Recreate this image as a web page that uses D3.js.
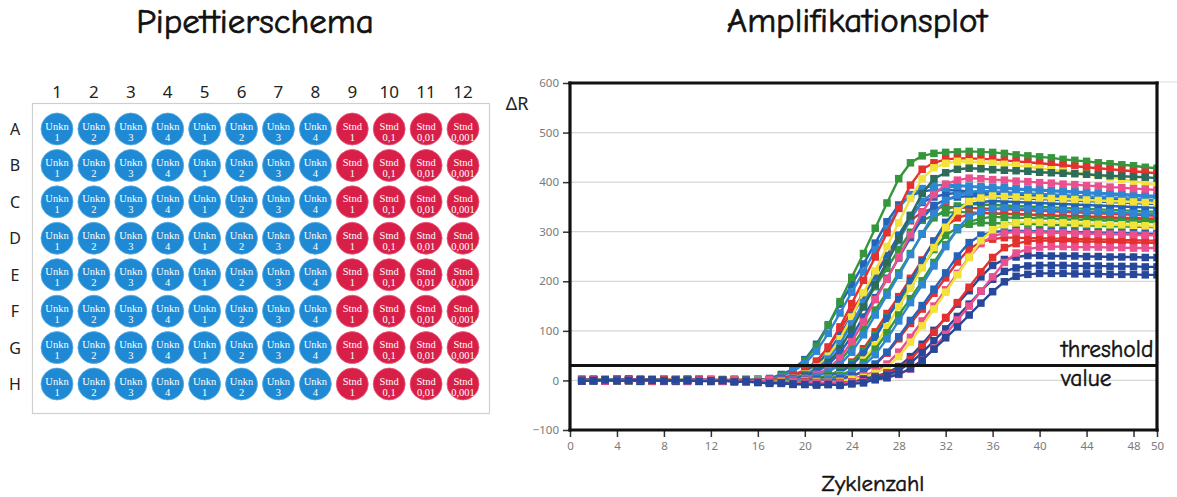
<!DOCTYPE html>
<html><head><meta charset="utf-8">
<script src="https://cdn.jsdelivr.net/npm/d3@7"></script>
<style>html,body{margin:0;padding:0;background:#fff;} svg{display:block}</style>
</head><body>
<svg id="chart" width="1177" height="497"></svg>
<script>
// ---------- text ----------
const titleLeft = "Pipettierschema";
const titleRight = "Amplifikationsplot";
const yAxisLabel = "ΔR";
const xAxisLabel = "Zyklenzahl";
const thresholdLabel1 = "threshold";
const thresholdLabel2 = "value";

// ---------- plate data ----------
const rowLabels = ["A","B","C","D","E","F","G","H"];
const colLabels = ["1","2","3","4","5","6","7","8","9","10","11","12"];
const wellType = ["Unkn","Unkn","Unkn","Unkn","Unkn","Unkn","Unkn","Unkn","Stnd","Stnd","Stnd","Stnd"];
const wellNumber = ["1","2","3","4","1","2","3","4","1","0,1","0,01","0,001"];

// ---------- amplification data ----------
const cycles = d3.range(1, 51);
const xTickValues = [0,4,8,12,16,20,24,28,32,36,40,44,48,50];
const yTickValues = [-100,0,100,200,300,400,500,600];
const thresholdValue = 30;

const seriesColors = [
 "#2563b8","#35963c","#2f86d2","#e3312f","#35963c","#2563b8","#e3312f","#f2e23a","#2f86d2","#2d6b5a",
 "#2563b8","#35963c","#ea4f8e","#2f86d2","#e3312f","#35963c","#2563b8","#f2e23a","#35963c","#2f86d2",
 "#e3312f","#2563b8","#ea4f8e","#f2e23a","#27479a","#e3312f","#27479a","#ea4f8e","#27479a"
];
const seriesValues = [
 [2,-1,1,3,0,-2,1,2,0,-1,2,1,-1,0,2,1,4,12,23,42,73,112,154,193,235,277,320,354,373,381,385,384,383,381,380,379,378,377,375,374,373,372,371,369,368,367,366,365,363,362],
 [0,2,-1,1,2,0,-1,1,3,0,1,-2,0,2,1,0,2,9,21,39,69,111,159,208,256,307,358,407,439,453,458,460,461,462,461,460,458,455,453,451,449,446,444,442,439,437,435,433,430,428],
 [1,0,2,-1,0,1,-2,1,0,2,1,0,-1,1,0,-1,2,8,18,34,59,95,136,178,219,263,306,348,375,387,393,395,394,392,391,390,389,387,386,385,383,382,381,379,378,377,376,374,373,372],
 [-1,1,0,2,1,-1,0,1,2,0,-1,1,0,2,1,0,1,4,11,21,39,67,102,140,175,214,252,291,322,340,347,350,349,348,347,346,345,344,343,342,341,340,339,338,337,336,335,334,333,332],
 [0,1,-1,2,0,1,1,-2,0,1,2,-1,0,1,-1,2,1,2,7,15,29,51,82,117,153,189,226,264,299,323,333,338,340,339,338,337,336,335,334,333,332,331,330,329,328,327,326,325,324,323],
 [1,-1,0,1,2,0,-1,1,0,2,0,1,-1,0,1,2,0,2,8,17,32,57,91,130,170,210,251,293,333,359,370,376,378,377,376,374,373,372,371,370,368,367,366,365,364,362,361,360,359,358],
 [2,0,1,-1,1,0,2,-1,0,1,-1,2,0,1,0,-1,1,2,9,20,38,67,108,155,202,249,298,347,394,426,439,446,448,448,447,446,444,442,440,438,436,434,432,430,428,426,424,422,420,418],
 [0,1,2,-1,0,1,0,2,-1,1,0,-1,1,2,0,1,-1,1,4,13,27,49,84,128,177,221,270,318,367,407,429,438,442,441,440,438,436,434,431,428,425,422,419,416,413,410,406,402,398,394],
 [-1,0,1,2,0,-1,1,0,2,1,-1,0,1,0,2,-1,0,1,4,12,24,43,74,114,157,196,239,282,325,361,380,388,392,391,389,388,387,385,384,383,382,380,379,378,376,375,374,372,371,370],
 [1,2,0,-1,1,0,1,-1,2,0,1,0,-2,1,0,2,1,0,2,9,19,36,64,103,148,193,238,285,332,377,407,419,426,428,427,425,424,423,422,420,419,418,417,416,414,413,412,411,410,408],
 [0,-1,1,0,2,1,-1,0,1,2,0,1,-1,0,1,0,-2,1,2,7,17,32,56,89,128,167,206,247,288,327,353,365,370,372,371,370,369,368,367,366,365,364,363,362,361,360,359,358,357,356],
 [1,0,2,1,-1,0,1,2,0,-1,1,0,2,-1,0,1,0,-1,1,4,11,21,39,68,103,142,178,217,256,295,328,345,352,356,355,354,353,352,351,350,349,348,347,346,345,344,343,342,341,340],
 [2,1,0,-1,1,2,0,1,-1,0,2,1,0,1,-1,0,2,0,1,4,12,24,45,78,118,163,204,249,294,339,375,396,404,408,407,405,404,402,401,399,398,396,395,393,392,390,389,387,386,384],
 [0,1,-1,2,0,1,-1,0,2,1,0,-1,1,0,2,1,-1,0,1,2,8,17,32,57,92,132,172,212,254,296,336,363,374,380,382,381,380,378,377,376,375,374,372,371,370,369,368,366,365,364],
 [1,0,-1,1,2,0,1,-1,0,1,2,0,-1,1,0,-2,-1,-3,-2,0,3,10,20,37,64,98,135,169,206,243,281,311,328,335,338,337,336,336,335,334,333,332,332,331,330,329,328,328,327,326],
 [-1,1,0,2,1,-1,0,1,0,2,-1,1,0,-1,1,0,-2,-3,-1,-2,3,10,19,35,60,92,127,159,194,229,264,293,308,315,318,317,317,316,316,315,314,314,313,313,312,311,311,310,310,309],
 [0,2,1,-1,0,1,2,0,-1,1,0,1,-1,2,0,-1,-2,-4,-3,-2,2,7,16,31,54,87,125,163,201,241,281,319,344,355,360,362,361,360,359,358,357,356,355,354,353,352,351,350,349,348],
 [1,-1,0,2,1,0,-1,1,2,0,1,-1,0,1,2,0,-1,-2,-3,-1,-2,4,11,22,41,71,108,149,186,227,268,309,342,361,368,372,371,370,369,368,367,366,365,364,363,362,361,360,359,358],
 [2,0,1,-1,0,2,1,0,-1,1,0,2,-1,0,1,-1,-2,-1,-3,-2,-1,3,10,20,36,63,96,132,165,201,238,274,304,320,327,330,329,328,328,327,326,325,324,324,323,322,321,320,320,319],
 [0,1,-1,0,2,1,-1,0,1,2,-1,0,1,-1,0,-2,-3,-4,-2,-3,-1,2,7,16,30,52,84,120,157,193,231,270,306,331,341,346,348,347,346,345,344,343,342,341,340,339,338,337,336,335],
 [1,0,2,-1,1,0,-1,2,0,1,-1,0,1,-2,0,-1,-3,-4,-5,-3,-4,-2,3,9,17,32,55,84,115,144,176,207,239,265,279,285,288,288,287,287,286,286,285,285,284,284,283,283,282,282],
 [-1,1,0,1,2,-1,0,1,-2,0,1,0,-1,1,0,-2,-4,-3,-5,-6,-4,-3,3,9,18,33,57,88,121,151,184,217,251,278,293,299,302,302,301,301,300,300,299,299,298,298,297,297,296,296],
 [0,1,-1,2,0,1,0,-1,1,0,2,-1,0,1,-1,-2,-3,-4,-6,-5,-6,-4,-3,3,9,18,33,57,87,120,150,183,216,249,276,291,297,300,299,299,298,298,297,296,296,295,295,294,293,293],
 [1,0,2,-1,0,1,-1,0,2,1,0,-1,1,0,-2,-1,-3,-2,-4,-5,-3,-4,-2,2,6,14,27,48,77,110,144,178,213,248,282,304,314,318,320,319,318,318,317,316,315,314,314,313,312,311],
 [-1,0,1,0,2,-1,1,0,-1,1,0,-2,1,-1,0,-2,-4,-5,-7,-8,-6,-8,-7,-5,3,8,15,28,48,73,101,126,154,181,209,232,244,249,252,252,251,251,251,250,250,249,249,249,248,248],
 [0,2,-1,1,0,1,-1,2,0,-1,1,0,-1,0,-2,-3,-2,-4,-5,-4,-6,-5,-4,-3,1,6,13,24,42,68,97,127,157,188,219,248,268,276,281,282,282,281,281,280,280,279,279,278,278,277],
 [1,-1,0,2,0,-1,1,0,1,-2,0,1,-1,-2,-3,-4,-5,-6,-8,-7,-9,-8,-7,-6,1,5,10,20,35,56,80,104,129,154,180,204,220,227,231,232,232,232,231,231,231,230,230,230,229,229],
 [0,1,-1,0,1,2,-1,0,1,-1,0,2,-1,0,-2,-1,-3,-4,-3,-5,-4,-6,-5,-4,-3,1,5,12,23,41,65,93,122,150,180,209,238,257,265,269,270,270,269,269,269,268,268,267,267,267],
 [-1,0,1,-1,0,2,0,-1,1,0,-2,-1,0,-3,-2,-4,-6,-5,-7,-8,-9,-8,-10,-7,-5,2,6,13,24,41,63,86,108,132,156,179,199,210,214,216,216,216,215,215,215,214,214,214,213,213]
];

// ---------- drawing ----------
const comic = "'Comic Sans MS','Comic Neue','Noto Sans',sans-serif";
const svg = d3.select("#chart");

function comicText(xp, yp, size, txt, anchor, sw) {
  return svg.append("text").attr("x",xp).attr("y",yp).attr("text-anchor",anchor)
    .attr("font-family",comic).attr("font-size",size).attr("fill","#111")
    .attr("stroke","#111").attr("stroke-width",sw).attr("paint-order","stroke").text(txt);
}
comicText(255, 33, 35, titleLeft, "middle", 0.7);
comicText(857, 32, 35, titleRight, "middle", 0.7);

// plate
const px = d3.scalePoint().domain(colLabels).range([57,463]);
const py = d3.scalePoint().domain(rowLabels).range([129,384]);
svg.append("rect").attr("x",32.5).attr("y",103.5).attr("width",457).attr("height",310)
  .attr("fill","#fff").attr("stroke","#cfcfcf").attr("stroke-width",1.2);

svg.append("g").selectAll("text").data(colLabels).join("text")
  .attr("x",d=>px(d)).attr("y",98).attr("text-anchor","middle")
  .attr("font-family","'Noto Sans',sans-serif").attr("font-size",17).attr("fill","#222").text(d=>d);
svg.append("g").selectAll("text").data(rowLabels).join("text")
  .attr("x",15).attr("y",d=>py(d)+6).attr("text-anchor","middle")
  .attr("font-family","'Noto Sans',sans-serif").attr("font-size",16).attr("fill","#222").text(d=>d);

const wells = [];
rowLabels.forEach(r => colLabels.forEach((c,ci) => wells.push({r,c,ci})));
const wg = svg.append("g").selectAll("g").data(wells).join("g")
  .attr("transform",d=>`translate(${px(d.c)},${py(d.r)})`);
wg.append("circle").attr("r",16)
  .attr("fill",d=>wellType[d.ci]==="Unkn" ? "#1f8ad3" : "#d81f48")
  .attr("stroke",d=>wellType[d.ci]==="Unkn" ? "#5aaee6" : "#e85c7c").attr("stroke-width",0.8);
wg.append("text").attr("y",0.5).attr("text-anchor","middle")
  .attr("font-family","'Liberation Serif',serif").attr("font-size",10.5).attr("fill","#fff")
  .text(d=>wellType[d.ci]);
wg.append("text").attr("y",11.5).attr("text-anchor","middle")
  .attr("font-family","'Liberation Serif',serif").attr("font-size",10.5).attr("fill","#fff")
  .text(d=>wellNumber[d.ci]);

// amplification plot
const x = d3.scaleLinear().domain([0,50]).range([570,1157]);
const y = d3.scaleLinear().domain([-100,600]).range([430,83]);

svg.append("g").selectAll("line").data(yTickValues.filter(v=>v>-100 && v<600)).join("line")
  .attr("x1",x(0)).attr("x2",x(50)).attr("y1",d=>y(d)).attr("y2",d=>y(d))
  .attr("stroke","#d6d6d6").attr("stroke-width",1.2);
svg.append("line").attr("x1",x(50)).attr("x2",1177).attr("y1",y(600)-1).attr("y2",y(600)-1)
  .attr("stroke","#e2e2e2").attr("stroke-width",1.2);

svg.append("clipPath").attr("id","plotclip").append("rect")
  .attr("x",x(0)).attr("y",y(600)).attr("width",x(50)-x(0)).attr("height",y(-100)-y(600));

const line = d3.line().x((d,i)=>x(cycles[i])).y(d=>y(d));
const cg = svg.append("g").attr("clip-path","url(#plotclip)");
seriesValues.forEach((vals,si) => {
  const col = seriesColors[si];
  const g = cg.append("g");
  g.append("path").datum(vals).attr("d",line).attr("fill","none")
    .attr("stroke",col).attr("stroke-width",2.4).attr("stroke-linejoin","round");
  g.selectAll("rect").data(vals).join("rect")
    .attr("x",(d,i)=>x(cycles[i])-3.75).attr("y",d=>y(d)-3.75)
    .attr("width",7.5).attr("height",7.5).attr("fill",col);
});

// threshold
svg.append("line").attr("x1",x(0)).attr("x2",x(50))
  .attr("y1",y(thresholdValue)).attr("y2",y(thresholdValue))
  .attr("stroke","#111").attr("stroke-width",3);

// axes
const yAxis = d3.axisLeft(y).tickValues(yTickValues).tickSize(7).tickSizeOuter(0).tickPadding(4);
const ya = svg.append("g").attr("transform",`translate(${x(0)},0)`).call(yAxis);
ya.select(".domain").remove();
ya.selectAll(".tick line").attr("stroke","#333").attr("stroke-width",1.5);
ya.selectAll(".tick text").attr("fill","#7a7a7a").attr("font-size",11.5)
  .attr("font-family","'Noto Sans',sans-serif");

const xAxis = d3.axisBottom(x).tickValues(xTickValues).tickSize(7).tickSizeOuter(0).tickPadding(5);
const xa = svg.append("g").attr("transform",`translate(0,${y(-100)})`).call(xAxis);
xa.select(".domain").remove();
xa.selectAll(".tick line").attr("stroke","#333").attr("stroke-width",1.5);
xa.selectAll(".tick text").attr("fill","#7a7a7a").attr("font-size",11.5)
  .attr("font-family","'Noto Sans',sans-serif");

// frame
const frame = svg.append("g").attr("stroke","#111").attr("stroke-width",3.2).attr("stroke-linecap","square");
frame.append("line").attr("x1",x(0)).attr("x2",x(0)).attr("y1",y(600)).attr("y2",y(-100));
frame.append("line").attr("x1",x(0)).attr("x2",x(50)).attr("y1",y(600)).attr("y2",y(600));
frame.append("line").attr("x1",x(50)).attr("x2",x(50)).attr("y1",y(600)).attr("y2",y(-100));
frame.append("line").attr("x1",x(0)).attr("x2",x(50)).attr("y1",y(-100)).attr("y2",y(-100));

// labels
svg.append("text").attr("x",517).attr("y",110).attr("text-anchor","middle")
  .attr("font-family","'Noto Sans',sans-serif").attr("font-size",18).attr("fill","#222").text(yAxisLabel);
comicText(873, 491, 23, xAxisLabel, "middle", 0.5);
comicText(1061, 357, 23.5, thresholdLabel1, "start", 0.5);
comicText(1061, 386, 23.5, thresholdLabel2, "start", 0.5);
</script>
</body></html>
